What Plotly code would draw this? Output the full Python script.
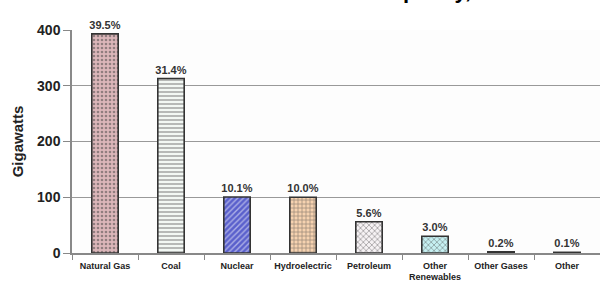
import plotly.graph_objects as go

categories = ["Natural Gas", "Coal", "Nuclear", "Hydroelectric", "Petroleum",
              "Other<br>Renewables", "Other Gases", "Other"]
gigawatts = [393, 313, 100.5, 100, 56, 30, 2.2, 1.2]
shares = ["39.5%", "31.4%", "10.1%", "10.0%", "5.6%", "3.0%", "0.2%", "0.1%"]

bg_colors = ["#dcb6ba", "#f2f8f4", "#5a60cc", "#f6d2b0", "#f6f2f4", "#c6f0f2", "#222222", "#222222"]
fg_colors = ["#d2a8ae", "#b9d6c4", "#e6e6ff", "#e08030", "#ddd2d8", "#ffffff", "#222222", "#222222"]
shapes = [".", "-", "/", "+", "x", "x", "", ""]

fig = go.Figure()
fig.add_trace(go.Bar(
    x=categories, y=gigawatts, width=0.4,
    text=shares, textposition="outside", cliponaxis=False,
    constraintext="none",
    textfont=dict(family="Liberation Sans, Arial, sans-serif", size=11, color="#333333", weight="bold"),
    marker=dict(
        color=bg_colors,
        line=dict(color="#333333", width=1.6),
        pattern=dict(shape=shapes, bgcolor=bg_colors, fgcolor=fg_colors,
                     size=4, solidity=0.35, fillmode="overlay"),
    ),
    hoverinfo="skip",
))

fig.add_annotation(text="<b>Capacity,</b>", xref="paper", yref="paper",
                   x=0.665, y=1.177, xanchor="center", yanchor="middle",
                   showarrow=False,
                   font=dict(family="Liberation Sans, Arial, sans-serif", size=22, color="#000"))

fig.update_layout(
    width=600, height=284,
    margin=dict(l=72, r=0, t=30, b=31),
    paper_bgcolor="white", plot_bgcolor="#fdfdfd",
    showlegend=False,
    font=dict(family="Liberation Sans, Arial, sans-serif", color="#222"),
)
fig.update_xaxes(
    tickson="boundaries", ticks="outside", ticklen=5, tickcolor="#888",
    showline=True, linecolor="#888", linewidth=1.5,
    tickangle=0, automargin=False, ticklabelstandoff=3,
    tickfont=dict(size=9, color="#222", weight="bold"),
    showgrid=False,
)
fig.update_yaxes(
    range=[0, 400], dtick=100, ticks="outside", ticklen=7, tickcolor="#888",
    showline=True, linecolor="#888", linewidth=1.5,
    showgrid=True, gridcolor="#999", gridwidth=1,
    zeroline=False, automargin=False,
    tickfont=dict(size=14, color="#222", weight="bold"),
    title=dict(text="<b>Gigawatts</b>", font=dict(size=15, color="#222"), standoff=10),
)
fig.write_html("out.html", config={"displayModeBar": False},
               post_script="document.body.style.margin='0';")
